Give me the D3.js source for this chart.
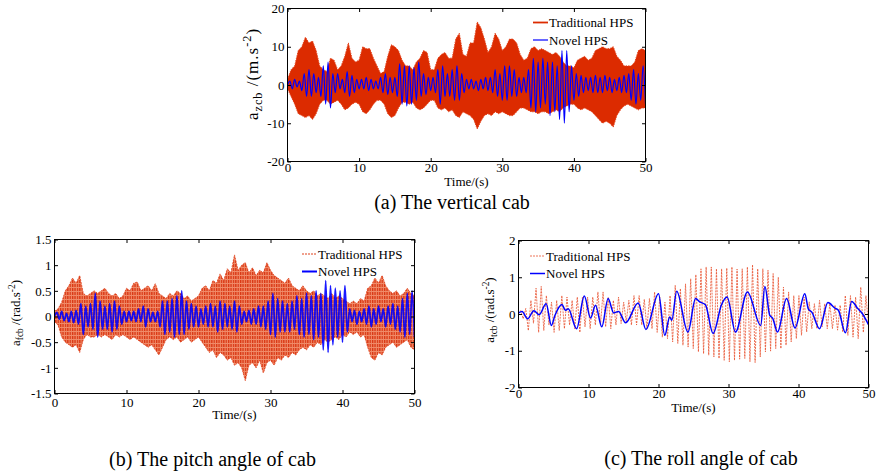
<!DOCTYPE html>
<html lang="en">
<head>
<meta charset="UTF-8" />
<title>cab acceleration</title>
<script src="https://cdn.jsdelivr.net/npm/d3@7"></script>
<style>
    body { margin: 0; background: #fff; }
    svg text { font-family: 'Liberation Serif', 'Times New Roman', serif; fill: #000; }
</style>
</head>
<body>
<svg id="fig" width="877" height="473"></svg>
<script>
// ---- data ----
const timeTicks = [0, 10, 20, 30, 40, 50]
const vertTicks = [-20, -10, 0, 10, 20]
const pitchTicks = [-1.5, -1, -0.5, 0, 0.5, 1, 1.5]
const rollTicks = [-2, -1, 0, 1, 2]

// (a) traditional HPS: envelope of the dense signal, every 0.5 s
const envStep = 0.5
const tradVertUpper = [1.5,4,5,9,10,12.5,11,11.5,9,5, 4,3.5,7,6.5,4,5,7.5,11,7,6, 6.5,10,9.5,9.5,7,5,3,3.5,7.5,10.5,
    10,9,6.5,5,5,4,6,7,9,8.5, 4,4,7,8,8.5,7,7,12,13.5,8, 7.5,11,11,16.5,15,12,8.5,10,13.5,12, 9,10,12,12,11,8,6.5,7,9.5,10,
    9,9.5,9,8.5,8,8.5,7.5,6,5,5, 4.5,6.5,7,7.5,6.5,7,9,9.5,10,9.5, 9.5,10,7.5,6.5,5,5,5,6,9,9.5, 9]
const tradVertLower = [-1,-3,-5,-7.5,-8,-8.5,-8,-9,-7.5,-5, -4,-4,-5,-4.5,-4,-5,-6.5,-6,-5,-4.5, -5,-7,-7.5,-6.5,-5,-4,-4,-5,-7.5,-8.5,
    -8,-6,-4.5,-4.5,-5,-4.5,-6,-6.5,-6,-5, -4,-4,-6,-6.5,-6,-7,-6.5,-8,-8.5,-7, -7.5,-8,-9,-11.5,-9.5,-8,-7.5,-8,-7,-7.5,
    -7,-7.5,-8,-8,-7,-6,-6,-6.5,-7,-7, -7.5,-7,-7,-7.5,-7,-6.5,-7,-6,-5.5,-5, -5,-6,-6.5,-6,-6.5,-7,-8,-9,-10,-9.5,
    -10,-11,-8,-6.5,-5.5,-5,-5.5,-6,-6.5,-6, -6]

// (a) novel HPS: successive extrema, one every 1/3 s
const novelStep = 1 / 3
const novelVert = [0,1,-1,1.5,-0.5,1,-1.5,3,-3,4, -3,3,-2,2,-3,5,-5,6,-6,3, -2,3,-1,1.5,-2,3.5,-3,2.5,-2,1.5,
    -1,1.5,-1,2,-1.5,1.5,-1,1,-1,2, -2,3,-2.5,2,-2,2,-3,5.5,-5,5, -5.5,5,-5,4.5,-4,6,-3,3,-2.5,2,
    -1.5,2,-2,4,-5,5,-3,3,-3,4, -4,5,-4,3,-2,1.5,-1,1.5,-1,1, -1.5,1.5,-1,2,-1.5,2,-2,4,-3,3,
    -4,5,-4,5,-3,4,-3,2,-2,2, -2,4,-6,7,-7,6,-6,7,-5,6, -8,6,-7,5,-9,9,-10,9,-7,5,
    -4,3,-3,2.5,-2,2,-1.5,2,-2,2.5, -2,2,-2,2.5,-1.5,2,-2,1.5,-1.5,2, -2,2.5,-2,3,-4,4,-5,3,-4,5, -5]

// (b) traditional HPS envelope, every 0.5 s
const tradPitchUpper = [0.1,0.15,0.28,0.5,0.6,0.75,0.65,0.8,0.45,0.4, 0.45,0.5,0.45,0.5,0.55,0.45,0.4,0.45,0.35,0.4,
    0.55,0.5,0.65,0.67,0.5,0.55,0.6,0.5,0.64,0.45, 0.4,0.35,0.45,0.4,0.5,0.45,0.35,0.4,0.3,0.35,
    0.4,0.55,0.6,0.5,0.7,0.65,0.83,0.7,0.93,0.85, 1.2,0.9,1.0,1.05,0.85,0.95,0.8,0.9,0.85,1.05,
    0.9,0.8,0.75,0.7,0.65,0.75,0.6,0.55,0.5,0.6, 0.5,0.45,0.5,0.4,0.45,0.4,0.35,0.45,0.35,0.4,
    0.35,0.3,0.25,0.3,0.25,0.35,0.3,0.55,0.6,0.75, 0.65,0.8,0.6,0.5,0.45,0.5,0.4,0.45,0.55,0.45, 0.4]
const tradPitchLower = [-0.1,-0.17,-0.4,-0.5,-0.55,-0.6,-0.55,-0.7,-0.45,-0.35, -0.4,-0.4,-0.35,-0.4,-0.35,-0.4,-0.45,-0.35,-0.4,-0.35,
    -0.4,-0.45,-0.4,-0.45,-0.5,-0.55,-0.6,-0.55,-0.65,-0.75, -0.6,-0.45,-0.4,-0.45,-0.4,-0.5,-0.45,-0.4,-0.5,-0.45,
    -0.4,-0.5,-0.6,-0.7,-0.65,-0.8,-0.7,-0.75,-0.85,-0.8, -0.95,-0.9,-1.0,-1.25,-0.95,-0.9,-1.0,-0.85,-1.1,-0.9,
    -0.85,-0.95,-0.8,-0.85,-0.75,-0.8,-0.7,-0.75,-0.65,-0.6, -0.65,-0.55,-0.6,-0.5,-0.55,-0.45,-0.5,-0.45,-0.4,-0.45,
    -0.35,-0.4,-0.3,-0.35,-0.3,-0.4,-0.35,-0.6,-0.8,-0.85, -0.7,-0.75,-0.6,-0.55,-0.5,-0.6,-0.55,-0.5,-0.45,-0.6, -0.65]

// (b) novel HPS extrema, one every 1/3 s
const novelPitch = [0,0.08,-0.05,0.1,-0.08,0.06,-0.1,0.1,-0.12,0.12, -0.15,0.25,-0.35,0.2,-0.2,0.25,-0.25,0.45,-0.4,0.3,
    -0.25,0.2,-0.25,0.25,-0.3,0.3,-0.25,0.2,-0.15,0.1, -0.1,0.1,-0.08,0.1,-0.1,0.15,-0.1,0.2,-0.2,0.15,
    -0.1,0.08,-0.1,0.1,-0.2,0.3,-0.35,0.3,-0.3,0.35, -0.4,0.4,-0.35,0.5,-0.35,0.3,-0.25,0.25,-0.2,0.2,
    -0.2,0.15,-0.15,0.2,-0.2,0.25,-0.2,0.2,-0.3,0.3, -0.25,0.25,-0.2,0.2,-0.25,0.3,-0.3,0.2,-0.15,0.1,
    -0.1,0.12,-0.15,0.15,-0.15,0.2,-0.2,0.2,-0.25,0.3, -0.35,0.45,-0.4,0.35,-0.3,0.3,-0.3,0.25,-0.3,0.3,
    -0.25,0.4,-0.35,0.35,-0.4,0.45,-0.35,0.4,-0.45,0.5, -0.4,0.45,-0.65,0.7,-0.7,0.6,-0.55,0.55,-0.4,0.5,
    -0.5,0.6,-0.3,0.15,-0.1,0.12,-0.15,0.1,-0.1,0.15, -0.15,0.2,-0.2,0.15,-0.15,0.2,-0.1,0.15,-0.2,0.2,
    -0.15,0.25,-0.25,0.2,-0.3,0.35,-0.4,0.45,-0.35,0.5, -0.4]

// (c) traditional HPS: successive peaks and troughs
const tradRollPeaks = [0.1,0.15,0.37,0.7,0.75,0.5,0.32,0.37,0.5,0.46, 0.37,0.46,0.46,0.46,0.46,0.6,0.6,0.46,0.37,0.46,
    0.32,0.37,0.5,0.5,0.4,0.42,0.6,0.46,0.32,0.5, 0.78,0.69,0.82,0.96,1.07,1.23,1.28,1.28,1.23,1.23,
    1.25,1.28,1.22,1.23,1.28,1.34,1.23,1.23,1.19,1.1, 1.0,0.73,0.6,0.5,0.5,0.46,0.33,0.28,0.37,0.28,
    0.28,0.24,0.24,0.5,0.5,0.46,0.73,0.5]
const tradRollTroughs = [-0.13,-0.45,-0.25,-0.5,-0.45,-0.3,-0.5,-0.45,-0.4,-0.3, -0.4,-0.5,-0.35,-0.4,-0.3,-0.3,-0.35,-0.4,-0.3,-0.26,
    -0.22,-0.3,-0.3,-0.3,-0.4,-0.4,-0.5,-0.63,-0.67,-0.76, -0.8,-0.85,-0.9,-0.94,-1.03,-1.08,-1.12,-1.17,-1.21,-1.26,
    -1.3,-1.26,-1.23,-1.21,-1.3,-1.32,-1.17,-1.03,-1.01,-0.94, -0.94,-0.85,-0.76,-0.67,-0.58,-0.49,-0.4,-0.4,-0.35,-0.4,
    -0.4,-0.44,-0.49,-0.58,-0.63,-0.67,-0.5,-0.3]

// (c) novel HPS: extrema and shoulders (time, value)
const novelRollTime = [0,0.5,1.3,2.2,2.95,3.95,4.7,5.2,6.2,6.7, 7.1,8.3,9.4,10.3,11.0,11.9,12.8,13.6,14.3,15.3,
    17.1,18.2,20.0,20.9,21.6,21.9,22.6,24.2,25.3,25.9, 26.7,27.8,29.0,29.8,31.0,32.7,34.6,35.2,35.9,36.3,
    37.0,38.3,39.5,40.9,41.4,41.9,43.0,44.2,45.2,45.7, 46.7,47.6,48.5,49.0,50]
const novelRollValue = [0.03,0.07,-0.13,0.09,-0.02,0.28,-0.31,-0.04,0.26,0.1, 0.14,-0.4,0.49,-0.11,0.24,-0.35,0.42,0.03,0.07,-0.24,
    0.3,-0.42,0.55,-0.58,-0.08,-0.17,0.62,-0.49,0.42,0.33, 0.25,-0.53,0.25,0.46,-0.49,0.6,-0.31,0.75,-0.04,-0.11,
    -0.49,0.42,-0.38,0.55,0.14,0.05,-0.4,0.31,0.16,0.1, -0.51,0.34,0.14,0.04,-0.29]

const seriesNames = ['Traditional HPS', 'Novel HPS']

// ---- drawing ----
const svg = d3.select('#fig')
const RED = '#dc2b00'
const BLUE = '#0000ff'

// dotted red texture for the dense dashed trace in (b)
const pat = svg.append('defs').append('pattern')
    .attr('id', 'dashfill').attr('patternUnits', 'userSpaceOnUse')
    .attr('width', 2.4).attr('height', 4)
pat.append('rect').attr('width', 2.4).attr('height', 4).attr('fill', '#f08a68')
pat.append('rect').attr('x', 0).attr('y', 0).attr('width', 1.3).attr('height', 3).attr('fill', '#d93612')

const makePanel = (cfg) => {
    const x = d3.scaleLinear().domain([0, 50]).range([cfg.left, cfg.right])
    const y = d3.scaleLinear().domain(cfg.yDomain).range([cfg.bottom, cfg.top])
    const g = svg.append('g')

    g.append('clipPath').attr('id', cfg.id + '-clip')
        .append('rect')
        .attr('x', cfg.left).attr('y', cfg.top)
        .attr('width', cfg.right - cfg.left).attr('height', cfg.bottom - cfg.top)

    const plot = g.append('g').attr('clip-path', `url(#${cfg.id}-clip)`)

    const fmt = (d) => String(d)
    const tick = 3.5

    // bottom axis with labels, ticks pointing inward
    g.append('g').attr('transform', `translate(0,${cfg.bottom})`)
        .call(d3.axisBottom(x).tickValues(timeTicks).tickFormat(fmt).tickSizeInner(-tick).tickSizeOuter(0).tickPadding(cfg.xPad))
    g.append('g').attr('transform', `translate(0,${cfg.top})`)
        .call(d3.axisTop(x).tickValues(timeTicks).tickFormat('').tickSizeInner(-tick).tickSizeOuter(0))
    g.append('g').attr('transform', `translate(${cfg.left},0)`)
        .call(d3.axisLeft(y).tickValues(cfg.yTicks).tickFormat(fmt).tickSizeInner(-tick).tickSizeOuter(0).tickPadding(cfg.yPad))
    g.append('g').attr('transform', `translate(${cfg.right},0)`)
        .call(d3.axisRight(y).tickValues(cfg.yTicks).tickFormat('').tickSizeInner(-tick).tickSizeOuter(0))

    g.selectAll('.domain').remove()
    g.selectAll('.tick line').attr('stroke', '#000')
    g.selectAll('.tick text').style('font-size', '13px').style('font-family', "'Liberation Serif', serif")

    g.append('rect')
        .attr('x', cfg.left).attr('y', cfg.top)
        .attr('width', cfg.right - cfg.left).attr('height', cfg.bottom - cfg.top)
        .attr('fill', 'none').attr('stroke', '#000').attr('stroke-width', 1)

    // axis titles
    g.append('text')
        .attr('x', (cfg.left + cfg.right) / 2).attr('y', cfg.xTitleY)
        .attr('text-anchor', 'middle').style('font-size', '13px')
        .text('Time/(s)')

    const yt = g.append('text')
        .attr('transform', `translate(${cfg.yTitleX},${cfg.yTitleY}) rotate(-90)`)
        .attr('text-anchor', 'middle').style('font-size', cfg.yTitleSize + 'px')
        .style('letter-spacing', (cfg.yTitleSpacing || 0) + 'px')
    const small = cfg.yTitleSize * 0.72
    yt.append('tspan').text('a')
    yt.append('tspan').attr('dy', cfg.yTitleSize * 0.25).style('font-size', small + 'px').text(cfg.sub)
    yt.append('tspan').attr('dy', -cfg.yTitleSize * 0.25).text(' /(' + cfg.unit + '.s')
    yt.append('tspan').attr('dy', -cfg.yTitleSize * 0.4).style('font-size', small + 'px').text('-2')
    yt.append('tspan').attr('dy', cfg.yTitleSize * 0.4).text(')')

    // caption
    svg.append('text')
        .attr('x', cfg.captionX).attr('y', cfg.captionY)
        .attr('text-anchor', 'middle').style('font-size', '20px')
        .text(cfg.caption)

    return { x, y, g, plot }
}

const legend = (g, x0, y0, styles) => {
    seriesNames.forEach((name, i) => {
        const yy = y0 + i * 17.5
        g.append('line')
            .attr('x1', x0).attr('x2', x0 + 15).attr('y1', yy).attr('y2', yy)
            .attr('stroke', styles[i].color).attr('stroke-width', styles[i].width)
            .attr('stroke-dasharray', styles[i].dash || null)
        g.append('text')
            .attr('x', x0 + 16).attr('y', yy + 4.5)
            .style('font-size', '13px')
            .text(name)
    })
}

// (a) vertical
{
    const p = makePanel({
        id: 'a', left: 287.5, right: 645.5, top: 8.5, bottom: 161.5,
        yDomain: [-20, 20], yTicks: vertTicks, xPad: 1.5, yPad: 3,
        xTitleY: 186, yTitleX: 258, yTitleY: 74, yTitleSize: 17, yTitleSpacing: 1, sub: 'zcb', unit: 'm',
        caption: '(a) The vertical cab', captionX: 452, captionY: 209,
    })
    const area = d3.area()
        .x((d, i) => p.x(i * envStep))
        .y0((d, i) => p.y(tradVertLower[i]))
        .y1((d) => p.y(d))
    p.plot.append('path').datum(tradVertUpper)
        .attr('d', area).attr('fill', RED).attr('stroke', '#e4471f').attr('stroke-width', 1)
        .attr('stroke-dasharray', '1.5,1')
    const line = d3.line().x((d, i) => p.x(i * novelStep)).y((d) => p.y(d)).curve(d3.curveMonotoneX)
    p.plot.append('path').datum(novelVert)
        .attr('d', line).attr('fill', 'none').attr('stroke', BLUE).attr('stroke-width', 1.2)
    legend(p.g, 533, 22.5, [{ color: RED, width: 1.8 }, { color: BLUE, width: 1.2 }])
}

// (b) pitch
{
    const p = makePanel({
        id: 'b', left: 54.5, right: 414.5, top: 239.5, bottom: 393.5,
        yDomain: [-1.5, 1.5], yTicks: pitchTicks, xPad: 4.5, yPad: 3,
        xTitleY: 419, yTitleX: 20, yTitleY: 313, yTitleSize: 13, sub: 'fcb', unit: 'rad',
        caption: '(b) The pitch angle of cab', captionX: 212.5, captionY: 466,
    })
    const area = d3.area()
        .x((d, i) => p.x(i * envStep))
        .y0((d, i) => p.y(tradPitchLower[i]))
        .y1((d) => p.y(d))
    p.plot.append('path').datum(tradPitchUpper)
        .attr('d', area).attr('fill', 'url(#dashfill)')
        .attr('stroke', '#e0401a').attr('stroke-width', 0.8).attr('stroke-dasharray', '2,1')
    const line = d3.line().x((d, i) => p.x(i * novelStep)).y((d) => p.y(d)).curve(d3.curveMonotoneX)
    p.plot.append('path').datum(novelPitch)
        .attr('d', line).attr('fill', 'none').attr('stroke', BLUE).attr('stroke-width', 1.8).attr('stroke-opacity', 0.9)
    legend(p.g, 302, 254, [{ color: '#e0401a', width: 1, dash: '2,1' }, { color: BLUE, width: 2 }])
}

// (c) roll
{
    const p = makePanel({
        id: 'c', left: 518.5, right: 868.5, top: 240.5, bottom: 387.5,
        yDomain: [-2, 2], yTicks: rollTicks, xPad: 1.5, yPad: 3,
        xTitleY: 412, yTitleX: 494, yTitleY: 310, yTitleSize: 13, sub: 'tcb', unit: 'rad',
        caption: '(c) The roll angle of cab', captionX: 701, captionY: 465,
    })
    const zig = d3.merge(d3.zip(tradRollPeaks, tradRollTroughs))
    const zx = d3.scaleLinear().domain([0, zig.length - 1]).range([0.3, 50])
    const redLine = d3.line().x((d, i) => p.x(zx(i))).y((d) => p.y(d))
    p.plot.append('path').datum(zig)
        .attr('d', redLine).attr('fill', 'none').attr('stroke', '#e8502e').attr('stroke-width', 0.8)
        .attr('stroke-dasharray', '2,1')
    const line = d3.line().x((d, i) => p.x(novelRollTime[i])).y((d) => p.y(d)).curve(d3.curveMonotoneX)
    p.plot.append('path').datum(novelRollValue)
        .attr('d', line).attr('fill', 'none').attr('stroke', BLUE).attr('stroke-width', 1.5)
    legend(p.g, 530, 256, [{ color: '#e8502e', width: 0.8, dash: '2,1' }, { color: BLUE, width: 1.5 }])
}
</script>
</body>
</html>
